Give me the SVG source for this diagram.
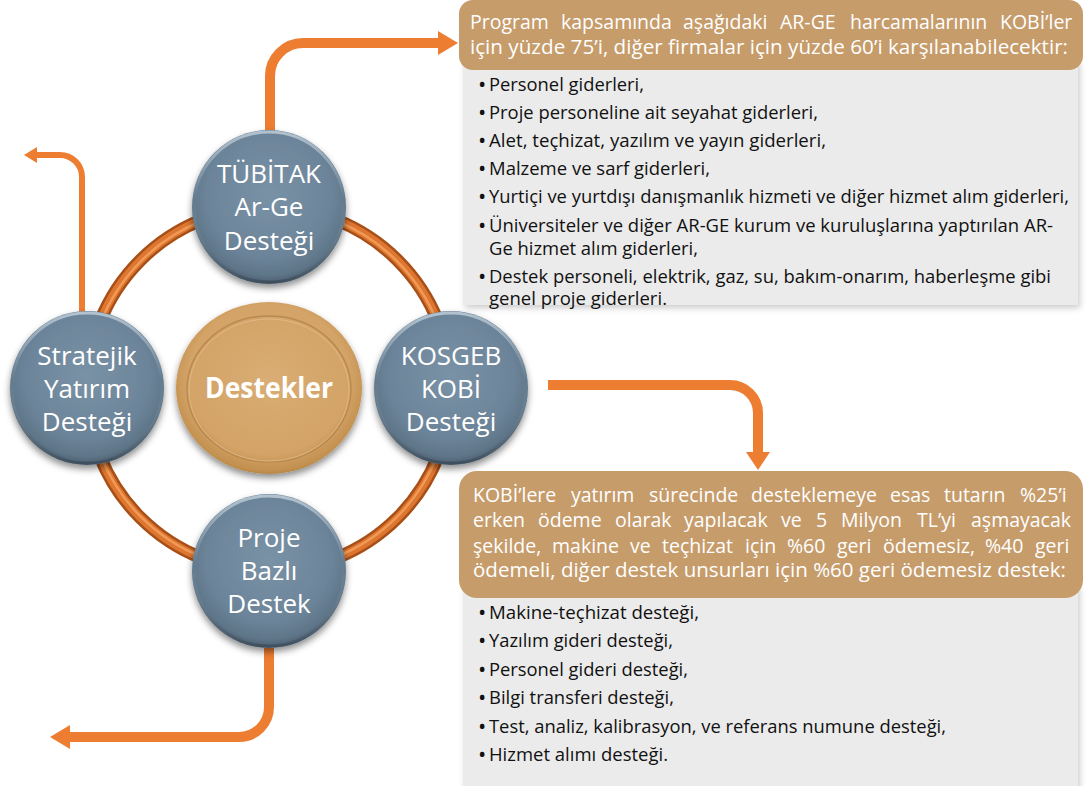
<svg xmlns="http://www.w3.org/2000/svg" width="1087" height="786" viewBox="0 0 1087 786">
  <defs>
    <style>
      .ctext{font-family:"Open Sans","Noto Sans",sans-serif;font-size:26px;fill:#ffffff;text-anchor:middle}
      .htext{font-family:"Open Sans","Noto Sans",sans-serif;font-size:19.5px;fill:#ffffff}
      .btext{font-family:"Open Sans","Noto Sans",sans-serif;font-size:19px;fill:#111111}
      .bul{font-size:22px}
      .conn{fill:none;stroke:#ED7D31;stroke-width:10}
      .head{fill:#ED7D31}
      .hdr{fill:#C69C6B}
      .gray{fill:#EBEBEB}
    </style>
    <radialGradient id="blueFill" cx="50%" cy="42%" r="58%">
      <stop offset="0" stop-color="#7A92A6"/>
      <stop offset="0.7" stop-color="#6C8499"/>
      <stop offset="0.9" stop-color="#5F7689"/>
      <stop offset="1" stop-color="#4B5E6F"/>
    </radialGradient>
    <linearGradient id="rimHi" x1="0" y1="0" x2="0" y2="1">
      <stop offset="0" stop-color="#C9D6E0" stop-opacity="0.75"/>
      <stop offset="0.45" stop-color="#C9D6E0" stop-opacity="0"/>
      <stop offset="1" stop-color="#2F3C48" stop-opacity="0.5"/>
    </linearGradient>
    <radialGradient id="goldFill" cx="50%" cy="45%" r="58%">
      <stop offset="0" stop-color="#D9AD74"/>
      <stop offset="0.75" stop-color="#D3A367"/>
      <stop offset="0.92" stop-color="#C2904F"/>
      <stop offset="1" stop-color="#9E7138"/>
    </radialGradient>
    <filter id="sh" x="-20%" y="-20%" width="140%" height="150%">
      <feDropShadow dx="0" dy="4" stdDeviation="3.5" flood-color="#000" flood-opacity="0.45"/>
    </filter>
    <filter id="boxsh" x="-5%" y="-5%" width="110%" height="115%">
      <feDropShadow dx="2" dy="3" stdDeviation="3" flood-color="#000" flood-opacity="0.2"/>
    </filter>
  </defs>

  <rect x="0" y="0" width="1087" height="786" fill="#ffffff"/>

  <g id="connectors">
    <g id="ring">
      <circle cx="269" cy="389" r="182" fill="none" stroke="#A84F17" stroke-width="13"/>
      <circle cx="269" cy="389" r="182" fill="none" stroke="#DD7630" stroke-width="8"/>
      <circle cx="269" cy="389" r="181" fill="none" stroke="#F5A460" stroke-width="2.5" stroke-opacity="0.8"/>
    </g>
    <path class="conn" d="M270,135 V76 A33,33 0 0 1 303,43 H440"/>
    <polygon class="head" points="438,31 458,43 438,55"/>
    <path class="conn" style="stroke-width:6" d="M82,314 V177 A22,22 0 0 0 60,155 H36"/>
    <polygon class="head" points="37,147 24,155 37,163"/>
    <path class="conn" d="M548,385 H730 A28,28 0 0 1 758,413 V454"/>
    <polygon class="head" points="746,452 770,452 758,470"/>
    <path class="conn" d="M269,648 V707 A30,30 0 0 1 239,737 H68"/>
    <polygon class="head" points="70,725 70,749 50,737"/>
  </g>

  <g id="node-destekler">
    <ellipse cx="269" cy="388" rx="93" ry="86" fill="url(#goldFill)" filter="url(#sh)"/>
    <ellipse cx="269" cy="389" rx="82" ry="73" fill="none" stroke="#B98A50" stroke-width="1.5"/>
    <ellipse cx="269" cy="390" rx="80" ry="71" fill="none" stroke="#E6C08E" stroke-width="1" stroke-opacity="0.7"/>
    <text class="ctext" x="269" y="398" style="font-weight:bold;font-size:28px" textLength="128" lengthAdjust="spacingAndGlyphs">Destekler</text>
  </g>

  <g id="node-tubitak">
    <circle cx="269" cy="207" r="77" fill="url(#blueFill)" filter="url(#sh)"/>
    <circle cx="269" cy="207" r="75" fill="none" stroke="url(#rimHi)" stroke-width="3"/>
    <text class="ctext" x="269" y="183">TÜBİTAK</text>
    <text class="ctext" x="269" y="216">Ar-Ge</text>
    <text class="ctext" x="269" y="250">Desteği</text>
  </g>

  <g id="node-stratejik">
    <circle cx="87" cy="388" r="77" fill="url(#blueFill)" filter="url(#sh)"/>
    <circle cx="87" cy="388" r="75" fill="none" stroke="url(#rimHi)" stroke-width="3"/>
    <text class="ctext" x="87" y="365">Stratejik</text>
    <text class="ctext" x="87" y="398">Yatırım</text>
    <text class="ctext" x="87" y="431">Desteği</text>
  </g>

  <g id="node-kosgeb">
    <circle cx="451" cy="388" r="77" fill="url(#blueFill)" filter="url(#sh)"/>
    <circle cx="451" cy="388" r="75" fill="none" stroke="url(#rimHi)" stroke-width="3"/>
    <text class="ctext" x="451" y="365">KOSGEB</text>
    <text class="ctext" x="451" y="398">KOBİ</text>
    <text class="ctext" x="451" y="431">Desteği</text>
  </g>

  <g id="node-proje">
    <circle cx="269" cy="571" r="77" fill="url(#blueFill)" filter="url(#sh)"/>
    <circle cx="269" cy="571" r="75" fill="none" stroke="url(#rimHi)" stroke-width="3"/>
    <text class="ctext" x="269" y="547">Proje</text>
    <text class="ctext" x="269" y="580">Bazlı</text>
    <text class="ctext" x="269" y="613">Destek</text>
  </g>

  <g id="box-tubitak">
    <rect class="gray" x="463" y="60" width="615" height="245" filter="url(#boxsh)"/>
    <rect class="hdr" x="459" y="0" width="624" height="70" rx="14"/>
    <text class="htext" y="29"><tspan x="470">Program</tspan><tspan x="561">kapsamında</tspan><tspan x="683">aşağıdaki</tspan><tspan x="780">AR-GE</tspan><tspan x="850">harcamalarının</tspan><tspan x="1000">KOBİ’ler</tspan></text>
    <text class="htext" x="470" y="54" textLength="598" lengthAdjust="spacingAndGlyphs">için yüzde 75’i, diğer firmalar için yüzde 60’i karşılanabilecektir:</text>
    <text class="btext" x="478" y="92"><tspan class="bul">•</tspan><tspan x="489" dy="-1" textLength="155" lengthAdjust="spacingAndGlyphs">Personel giderleri,</tspan></text>
    <text class="btext" x="478" y="120"><tspan class="bul">•</tspan><tspan x="489" dy="-1" textLength="329" lengthAdjust="spacingAndGlyphs">Proje personeline ait seyahat giderleri,</tspan></text>
    <text class="btext" x="478" y="148"><tspan class="bul">•</tspan><tspan x="489" dy="-1" textLength="337" lengthAdjust="spacingAndGlyphs">Alet, teçhizat, yazılım ve yayın giderleri,</tspan></text>
    <text class="btext" x="478" y="176"><tspan class="bul">•</tspan><tspan x="489" dy="-1" textLength="221" lengthAdjust="spacingAndGlyphs">Malzeme ve sarf giderleri,</tspan></text>
    <text class="btext" x="478" y="204"><tspan class="bul">•</tspan><tspan x="489" dy="-1" textLength="580" lengthAdjust="spacingAndGlyphs">Yurtiçi ve yurtdışı danışmanlık hizmeti ve diğer hizmet alım giderleri,</tspan></text>
    <text class="btext" x="478" y="233"><tspan class="bul">•</tspan><tspan x="489" dy="-1" textLength="564" lengthAdjust="spacingAndGlyphs">Üniversiteler ve diğer AR-GE kurum ve kuruluşlarına yaptırılan AR-</tspan><tspan x="489" dy="23" textLength="209" lengthAdjust="spacingAndGlyphs">Ge hizmet alım giderleri,</tspan></text>
    <text class="btext" x="478" y="284"><tspan class="bul">•</tspan><tspan x="489" dy="-1" textLength="562" lengthAdjust="spacingAndGlyphs">Destek personeli, elektrik, gaz, su, bakım-onarım, haberleşme gibi</tspan><tspan x="489" dy="22" textLength="178" lengthAdjust="spacingAndGlyphs">genel proje giderleri.</tspan></text>
  </g>

  <g id="box-kosgeb">
    <rect class="gray" x="463" y="585" width="615" height="215" filter="url(#boxsh)"/>
    <rect class="hdr" x="459" y="471" width="624" height="127" rx="18"/>
    <text class="htext" y="502"><tspan x="473">KOBİ’lere</tspan><tspan x="571">yatırım</tspan><tspan x="649">sürecinde</tspan><tspan x="751">desteklemeye</tspan><tspan x="890">esas</tspan><tspan x="944">tutarın</tspan><tspan x="1020">%25’i</tspan></text>
    <text class="htext" y="527"><tspan x="473">erken</tspan><tspan x="538">ödeme</tspan><tspan x="615">olarak</tspan><tspan x="684">yapılacak</tspan><tspan x="781">ve</tspan><tspan x="816">5</tspan><tspan x="841">Milyon</tspan><tspan x="917">TL’yi</tspan><tspan x="971">aşmayacak</tspan></text>
    <text class="htext" y="553"><tspan x="473">şekilde,</tspan><tspan x="552">makine</tspan><tspan x="630">ve</tspan><tspan x="662">teçhizat</tspan><tspan x="745">için</tspan><tspan x="787">%60</tspan><tspan x="837">geri</tspan><tspan x="883">ödemesiz,</tspan><tspan x="985">%40</tspan><tspan x="1035">geri</tspan></text>
    <text class="htext" x="473" y="577" textLength="593" lengthAdjust="spacingAndGlyphs">ödemeli, diğer destek unsurları için %60 geri ödemesiz destek:</text>
    <text class="btext" x="478" y="620"><tspan class="bul">•</tspan><tspan x="489" dy="-1" textLength="210" lengthAdjust="spacingAndGlyphs">Makine-teçhizat desteği,</tspan></text>
    <text class="btext" x="478" y="648"><tspan class="bul">•</tspan><tspan x="489" dy="-1" textLength="184" lengthAdjust="spacingAndGlyphs">Yazılım gideri desteği,</tspan></text>
    <text class="btext" x="478" y="677"><tspan class="bul">•</tspan><tspan x="489" dy="-1" textLength="199" lengthAdjust="spacingAndGlyphs">Personel gideri desteği,</tspan></text>
    <text class="btext" x="478" y="705"><tspan class="bul">•</tspan><tspan x="489" dy="-1" textLength="185" lengthAdjust="spacingAndGlyphs">Bilgi transferi desteği,</tspan></text>
    <text class="btext" x="478" y="734"><tspan class="bul">•</tspan><tspan x="489" dy="-1" textLength="457" lengthAdjust="spacingAndGlyphs">Test, analiz, kalibrasyon, ve referans numune desteği,</tspan></text>
    <text class="btext" x="478" y="762"><tspan class="bul">•</tspan><tspan x="489" dy="-1" textLength="179" lengthAdjust="spacingAndGlyphs">Hizmet alımı desteği.</tspan></text>
  </g>
</svg>
